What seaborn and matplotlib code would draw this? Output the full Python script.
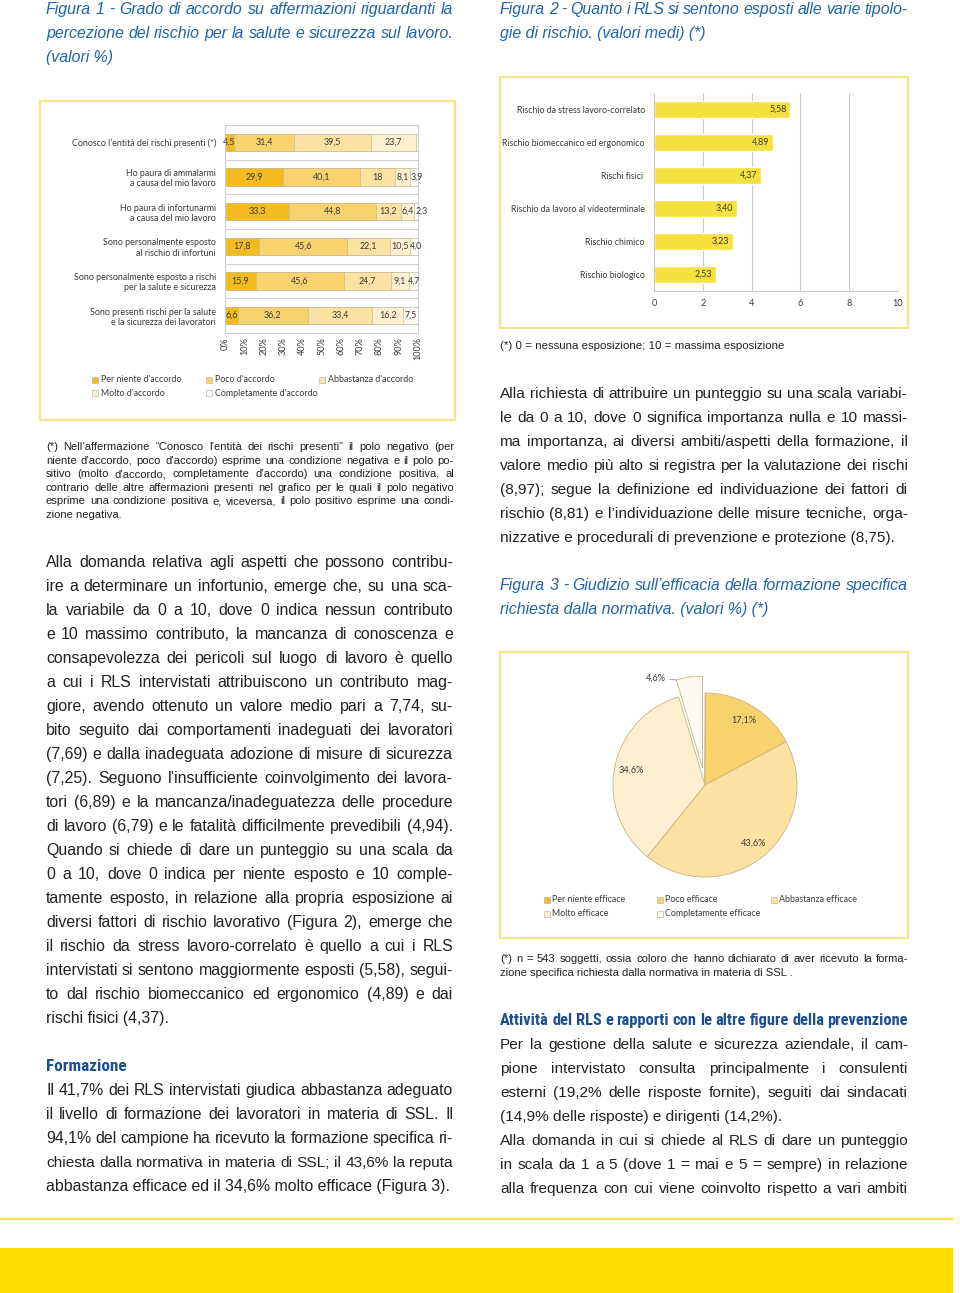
import numpy as np
import pandas as pd
import matplotlib
matplotlib.use("Agg")
import matplotlib.pyplot as plt
from matplotlib.patches import Rectangle
from matplotlib.lines import Line2D
import seaborn as sns

# ---------------- data ----------------
fig1_statements = [
    "Conosco l’entità dei rischi presenti (*)",
    "Ho paura di ammalarmi\na causa del mio lavoro",
    "Ho paura di infortunarmi\na causa del mio lavoro",
    "Sono personalmente esposto\nal rischio di infortuni",
    "Sono personalmente esposto a rischi\nper la salute e sicurezza",
    "Sono presenti rischi per la salute\ne la sicurezza dei lavoratori",
]
fig1_levels = ["Per niente d'accordo", "Poco d'accordo", "Abbastanza d'accordo",
               "Molto d'accordo", "Completamente d'accordo"]
per_niente = [4.5, 29.9, 33.3, 17.8, 15.9, 6.6]
poco = [31.4, 40.1, 44.8, 45.6, 45.6, 36.2]
abbastanza = [39.5, 18.0, 13.2, 22.1, 24.7, 33.4]
molto = [23.7, 8.1, 6.4, 10.5, 9.1, 16.2]
completamente = [0.9, 3.9, 2.3, 4.0, 4.7, 7.5]
fig1_ticks = [0, 10, 20, 30, 40, 50, 60, 70, 80, 90, 100]

risk_labels = ["Rischio da stress lavoro-correlato", "Rischio biomeccanico ed ergonomico",
               "Rischi fisici ", "Rischio da lavoro al videoterminale",
               "Rischio chimico", "Rischio biologico"]
risk_means = [5.58, 4.89, 4.37, 3.40, 3.23, 2.53]
fig2_ticks = [0, 2, 4, 6, 8, 10]

eff_levels = ["Per niente efficace", "Poco efficace", "Abbastanza efficace",
              "Molto efficace", "Completamente efficace"]
eff_pct = [0.1, 17.1, 43.6, 34.6, 4.6]

# ---------------- style ----------------
sns.set_style("white")
plt.rcParams['font.family'] = ['Liberation Sans', 'DejaVu Sans']
CH = ['Lato', 'DejaVu Sans']
BODY = ['Liberation Sans', 'DejaVu Sans']
HEAD = ['Roboto Condensed', 'Roboto', 'DejaVu Sans']
TITLE_C = '#2064a8'
HEAD_C = '#1d4f8f'
TXT_C = '#222222'
CH_C = '#3a3a3a'
shades = ['#F4BB1E', '#F8D26C', '#FBE2A2', '#FDEFD0', '#FFFAF0']
seg_edge = '#C9BB95'
box_c = '#F2E78E'

W, H = 960, 1293
fig = plt.figure(figsize=(W / 100, H / 100), dpi=100)
fig.patch.set_facecolor('white')
renderer = fig.canvas.get_renderer()


def fx(x):
    return x / W


def fy(y):
    return 1 - y / H


def add_ax(x0, y0, x1, y1):
    return fig.add_axes([fx(x0), fy(y1), (x1 - x0) / W, (y1 - y0) / H])


def box(x0, y0, x1, y1):
    fig.add_artist(Rectangle((fx(x0), fy(y1)), (x1 - x0) / W, (y1 - y0) / H,
                             transform=fig.transFigure, fill=False,
                             edgecolor=box_c, lw=1.6))


def line_text(x0, x1, yc, s, size, family, color, justify=True, **kw):
    px = size * 100 / 72
    base = yc + 0.36 * px
    words = s.split(' ') if justify else [s]
    avail = x1 - x0
    for attempt in range(15):
        objs = [fig.text(fx(x0), fy(base), w, fontsize=size, family=family, color=color,
                         va='baseline', ha='left', **kw) for w in words]
        widths = [o.get_window_extent(renderer).width for o in objs]
        minspace = 0.2 * size * 100 / 72
        if sum(widths) + minspace * (len(words) - 1) <= avail or attempt == 14:
            break
        for o in objs:
            o.remove()
        size *= 0.97
    if not justify:
        return
    gap = (avail - sum(widths)) / max(len(words) - 1, 1)
    x = x0
    for o, w in zip(objs, widths):
        o.set_x(fx(x))
        x += w + gap


def paragraph(x0, x1, y0, step, lines, size, family, color, last_flags=(), **kw):
    for i, s in enumerate(lines):
        line_text(x0, x1, y0 + i * step, s, size, family, color,
                  justify=(i not in last_flags), **kw)


def fmt1(v):
    if v < 1:
        return ""
    if v >= 10 and float(v).is_integer():
        return str(int(v))
    return f"{v:.1f}".replace('.', ',')


# ---------------- titles ----------------
paragraph(46, 453, 8, 24, [
    "Figura 1 - Grado di accordo su affermazioni riguardanti la",
    "percezione del rischio per la salute e sicurezza sul lavoro.",
    "(valori %)"], 11.4, BODY, TITLE_C, last_flags=(2,), style='italic')
paragraph(500, 908, 8, 24, [
    "Figura 2 - Quanto i RLS si sentono esposti alle varie tipolo-",
    "gie di rischio. (valori medi) (*)"], 11.4, BODY, TITLE_C, last_flags=(1,), style='italic')

# ---------------- Figure 1 ----------------
box(40, 101, 455, 420)
ax1 = add_ax(225, 125, 418, 333)
series = np.array([per_niente, poco, abbastanza, molto, completamente])
cum = np.cumsum(series, axis=0)
starts = cum - series
for k in range(4, -1, -1):
    sns.barplot(x=cum[k], y=fig1_statements, order=fig1_statements, color=shades[k],
                saturation=1, orient='h', width=0.5, errorbar=None,
                edgecolor=seg_edge, linewidth=0.5, ax=ax1)
for i in range(len(fig1_statements)):
    prev_x, prev_len = None, 0
    for k in range(5):
        s = fmt1(series[k][i])
        if not s:
            continue
        xc = starts[k][i] + series[k][i] / 2
        if prev_x is not None:
            min_sep = (len(s) + prev_len) / 2 * 2.1 + 1.0
            xc = max(xc, prev_x + min_sep)
        ax1.text(xc, i, s, ha='center', va='center', fontsize=6.4, family=CH, color=CH_C)
        prev_x, prev_len = xc, len(s)
ax1.set_xlim(0, 100)
ax1.set_ylim(len(fig1_statements) - 0.5, -0.5)
ax1.set_xticks(fig1_ticks)
ax1.set_xticklabels([f"{t}%" for t in fig1_ticks], rotation=90, fontsize=6.6,
                    family=CH, color=CH_C)
ax1.set_yticks(range(len(fig1_statements)))
ax1.set_yticklabels(fig1_statements, fontsize=6.4, family=CH, color=CH_C,
                    multialignment='right')
ax1.set_yticks(np.arange(-0.5, len(fig1_statements), 1), minor=True)
ax1.grid(which='minor', axis='y', color='#d2d2d2', lw=0.8)
ax1.grid(which='major', visible=False)
ax1.set_axisbelow(True)
ax1.tick_params(which='both', length=0)
ax1.tick_params(axis='y', pad=6.5)
ax1.tick_params(axis='x', pad=3)
for sp in ax1.spines.values():
    sp.set_color('#cfcfcf')
    sp.set_linewidth(0.8)
ax1.set_xlabel('')
ax1.set_ylabel('')

# legend fig 1
leg1_pos = [(92, 380), (206, 380), (319, 380), (92, 393), (206, 393)]
for (lx, ly), lab, col in zip(leg1_pos, fig1_levels, shades):
    fig.add_artist(Rectangle((fx(lx), fy(ly + 3)), 6 / W, 6 / H, transform=fig.transFigure,
                             facecolor=col, edgecolor='#b9b9b9', lw=0.5))
    fig.text(fx(lx + 9), fy(ly), lab, fontsize=6.4, family=CH, color=CH_C,
             va='center', ha='left')

# footnote fig 1
paragraph(46, 454, 446, 13.6, [
    "(*) Nell’affermazione “Conosco l’entità dei rischi presenti” il polo negativo (per",
    "niente d’accordo, poco d’accordo) esprime una condizione negativa e il polo po-",
    "sitivo (molto d’accordo, completamente d’accordo) una condizione positiva, al",
    "contrario delle altre affermazioni presenti nel grafico per le quali il polo negativo",
    "esprime una condizione positiva e, viceversa, il polo positivo esprime una condi-",
    "zione negativa."], 8.1, BODY, TXT_C, last_flags=(5,))

# ---------------- Figure 2 ----------------
box(500, 77, 908, 328)
ax2 = add_ax(654, 93, 898, 291)
sns.barplot(x=risk_means, y=risk_labels, order=risk_labels, color='#F6E040', saturation=1,
            orient='h', width=0.5, errorbar=None, ax=ax2)
for i, v in enumerate(risk_means):
    ax2.text(v - 0.15, i, f"{v:.2f}".replace('.', ','), ha='right', va='center',
             fontsize=6.4, family=CH, color=CH_C)
ax2.set_xlim(0, 10)
ax2.set_ylim(len(risk_labels) - 0.5, -0.5)
ax2.set_xticks(fig2_ticks)
ax2.set_xticklabels([str(t) for t in fig2_ticks], fontsize=6.6, family=CH, color=CH_C)
ax2.set_yticklabels(risk_labels, fontsize=6.3, family=CH, color=CH_C)
ax2.grid(axis='x', color='#c9c9c9', lw=0.8)
ax2.grid(axis='y', visible=False)
ax2.set_axisbelow(True)
ax2.tick_params(length=0)
ax2.tick_params(axis='y', pad=6.5)
ax2.tick_params(axis='x', pad=6)
for name, sp in ax2.spines.items():
    sp.set_visible(name in ('bottom', 'left'))
    sp.set_color('#c9c9c9')
    sp.set_linewidth(0.8)
ax2.set_xlabel('')
ax2.set_ylabel('')
line_text(500, 908, 345, "(*) 0 = nessuna esposizione; 10 = massima esposizione",
          8.25, BODY, TXT_C, justify=False)

# ---------------- right column text ----------------
paragraph(500, 908, 392, 24, [
    "Alla richiesta di attribuire un punteggio su una scala variabi-",
    "le da 0 a 10, dove 0 significa importanza nulla e 10 massi-",
    "ma importanza, ai diversi ambiti/aspetti della formazione, il",
    "valore medio più alto si registra per la valutazione dei rischi",
    "(8,97); segue la definizione ed individuazione dei fattori di",
    "rischio (8,81) e l’individuazione delle misure tecniche, orga-",
    "nizzative e procedurali di prevenzione e protezione (8,75)."],
    11.1, BODY, TXT_C, last_flags=(6,))
paragraph(500, 908, 584, 24, [
    "Figura 3 - Giudizio sull’efficacia della formazione specifica",
    "richiesta dalla normativa. (valori %) (*)"], 11.4, BODY, TITLE_C,
    last_flags=(1,), style='italic')

# ---------------- Figure 3 ----------------
box(500, 652, 908, 938)
R = 92
ax3 = add_ax(705 - 130, 785 - 130, 705 + 130, 785 + 130)
wedges, _ = ax3.pie(eff_pct, colors=shades, startangle=90, counterclock=False,
                    explode=[0, 0, 0, 0, 0.185],
                    wedgeprops=dict(edgecolor='#C8B485', linewidth=0.6))
lim = 130 / R
ax3.set_xlim(-lim, lim)
ax3.set_ylim(-lim, lim)
ax3.set_axis_off()
for idx in (1, 2, 3):
    w = wedges[idx]
    ang = np.deg2rad((w.theta1 + w.theta2) / 2)
    cx, cy = w.center
    ax3.text(cx + 0.82 * np.cos(ang), cy + 0.82 * np.sin(ang),
             f"{eff_pct[idx]:.1f}%".replace('.', ','), ha='center', va='center',
             fontsize=6.6, family=CH, color=CH_C)
w = wedges[4]
cx, cy = w.center
t_edge = np.deg2rad(max(w.theta1, w.theta2))
pt = (cx + np.cos(t_edge), cy + np.sin(t_edge))
ax3.annotate(f"{eff_pct[4]:.1f}%".replace('.', ','), xy=pt, xytext=(-10, 2),
             textcoords='offset pixels', ha='right', va='center', fontsize=6.6,
             family=CH, color=CH_C, annotation_clip=False,
             arrowprops=dict(arrowstyle='-', color='#9a9a9a', lw=0.6,
                             shrinkA=0, shrinkB=0))

leg3_pos = [(544, 900), (657, 900), (771, 900), (544, 914), (657, 914)]
for (lx, ly), lab, col in zip(leg3_pos, eff_levels, shades):
    fig.add_artist(Rectangle((fx(lx), fy(ly + 3)), 6 / W, 6 / H, transform=fig.transFigure,
                             facecolor=col, edgecolor='#b9b9b9', lw=0.5))
    fig.text(fx(lx + 8), fy(ly), lab, fontsize=6.4, family=CH, color=CH_C,
             va='center', ha='left')

paragraph(500, 908, 958, 13.6, [
    "(*) n = 543 soggetti, ossia coloro che hanno dichiarato di aver ricevuto la forma-",
    "zione specifica richiesta dalla normativa in materia di SSL ."], 8.1, BODY, TXT_C,
    last_flags=(1,))

line_text(500, 908, 1019, "Attività del RLS e rapporti con le altre figure della prevenzione",
          12.5, HEAD, HEAD_C, justify=True, weight='bold')
paragraph(500, 908, 1043, 24, [
    "Per la gestione della salute e sicurezza aziendale, il cam-",
    "pione intervistato consulta principalmente i consulenti",
    "esterni (19,2% delle risposte fornite), seguiti dai sindacati",
    "(14,9% delle risposte) e dirigenti (14,2%).",
    "Alla domanda in cui si chiede al RLS di dare un punteggio",
    "in scala da 1 a 5 (dove 1 = mai e 5 = sempre) in relazione",
    "alla frequenza con cui viene coinvolto rispetto a vari ambiti"],
    11.1, BODY, TXT_C, last_flags=(3,))

# ---------------- left column text ----------------
paragraph(46, 453, 561, 24, [
    "Alla domanda relativa agli aspetti che possono contribu-",
    "ire a determinare un infortunio, emerge che, su una sca-",
    "la variabile da 0 a 10, dove 0 indica nessun contributo",
    "e 10 massimo contributo, la mancanza di conoscenza e",
    "consapevolezza dei pericoli sul luogo di lavoro è quello",
    "a cui i RLS intervistati attribuiscono un contributo mag-",
    "giore, avendo ottenuto un valore medio pari a 7,74, su-",
    "bito seguito dai comportamenti inadeguati dei lavoratori",
    "(7,69) e dalla inadeguata adozione di misure di sicurezza",
    "(7,25). Seguono l’insufficiente coinvolgimento dei lavora-",
    "tori (6,89) e la mancanza/inadeguatezza delle procedure",
    "di lavoro (6,79) e le fatalità difficilmente prevedibili (4,94).",
    "Quando si chiede di dare un punteggio su una scala da",
    "0 a 10, dove 0 indica per niente esposto e 10 comple-",
    "tamente esposto, in relazione alla propria esposizione ai",
    "diversi fattori di rischio lavorativo (Figura 2), emerge che",
    "il rischio da stress lavoro-correlato è quello a cui i RLS",
    "intervistati si sentono maggiormente esposti (5,58), segui-",
    "to dal rischio biomeccanico ed ergonomico (4,89) e dai",
    "rischi fisici (4,37)."], 11.4, BODY, TXT_C, last_flags=(19,))
line_text(46, 140, 1065, "Formazione", 12.3, HEAD, HEAD_C, justify=False, weight='bold')
paragraph(46, 453, 1089, 24, [
    "Il 41,7% dei RLS intervistati giudica abbastanza adeguato",
    "il livello di formazione dei lavoratori in materia di SSL. Il",
    "94,1% del campione ha ricevuto la formazione specifica ri-",
    "chiesta dalla normativa in materia di SSL; il 43,6% la reputa",
    "abbastanza efficace ed il 34,6% molto efficace (Figura 3)."],
    11.4, BODY, TXT_C, last_flags=(4,))

# ---------------- page decoration ----------------
fig.add_artist(Line2D([0, fx(953)], [fy(1219), fy(1219)], transform=fig.transFigure,
                      color='#FFE24F', lw=1.6))
fig.add_artist(Rectangle((0, 0), fx(953), (1293 - 1248) / H, transform=fig.transFigure,
                         facecolor='#FFDD00', edgecolor='none'))

fig.savefig("out.png", dpi=100)
